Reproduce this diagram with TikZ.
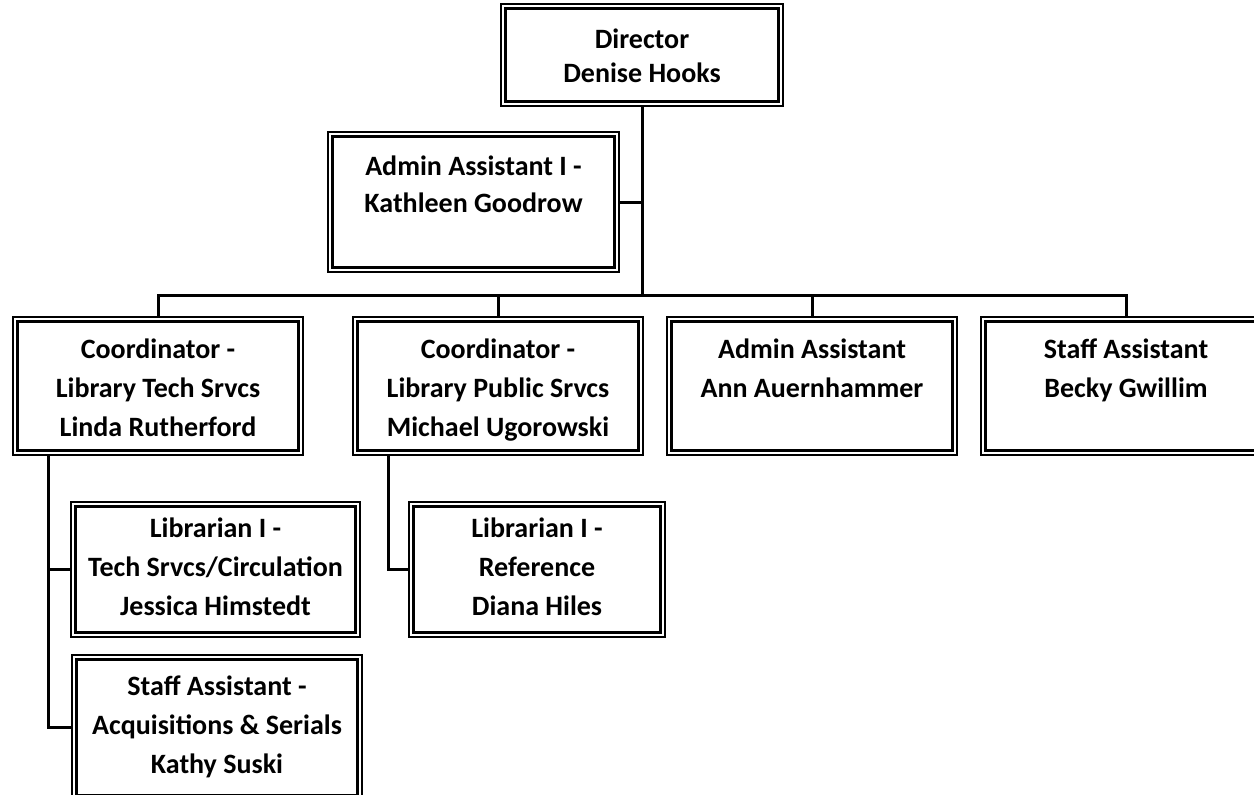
\documentclass[tikz,border=0pt]{standalone}
\usepackage{fontspec}
\setmainfont{Carlito}
\newcommand\toprl[1][12pt]{\rule{0pt}{#1}}
\newcommand\botrl[1]{\rule[-#1]{0pt}{0pt}}
\tikzset{
  orgbox/.style={draw, line width=0.75pt, inner sep=0pt, align=center,
    font=\bfseries\fontsize{14}{19.5}\selectfont,
    path picture={\draw[line width=1.8pt]
      ([shift={(2.3pt,-2.3pt)}]path picture bounding box.north west) rectangle
      ([shift={(-2.3pt,2.3pt)}]path picture bounding box.south east);}},
  conn/.style={draw, line width=1.5pt}
}
\begin{document}
\begin{tikzpicture}[x=0.5pt,y=-0.5pt]
\clip (0,0) rectangle (1254,794);
\fill[white] (0,0) rectangle (1254,794);
\node[orgbox, minimum width=141pt, minimum height=51pt] (dir) at (642,55)
  {\toprl Director\\[-2.5pt]Denise Hooks\botrl{2pt}};
\node[orgbox, minimum width=145.5pt, minimum height=70pt] (adm1) at (473.5,202)
  {\toprl Admin Assistant I -\\[-1pt]Kathleen Goodrow\botrl{20.5pt}};
\node[orgbox, minimum width=145pt, minimum height=69pt] (c1) at (158,386)
  {\toprl[15pt]Coordinator -\\Library Tech Srvcs\\Linda Rutherford\botrl{4pt}};
\node[orgbox, minimum width=145pt, minimum height=69pt] (c2) at (498,386)
  {\toprl[15pt]Coordinator -\\Library Public Srvcs\\Michael Ugorowski\botrl{4pt}};
\node[orgbox, minimum width=145pt, minimum height=69pt] (c3) at (812,386)
  {\toprl Admin Assistant\\Ann Auernhammer\botrl{20pt}};
\node[orgbox, minimum width=145pt, minimum height=69pt] (c4) at (1126,386)
  {\toprl Staff Assistant\\Becky Gwillim\botrl{20pt}};
\node[orgbox, minimum width=144.5pt, minimum height=67.5pt] (lib1) at (215.5,569.5)
  {\toprl Librarian I -\\Tech Srvcs/Circulation\\Jessica Himstedt\botrl{5pt}};
\node[orgbox, minimum width=145pt, minimum height=72.5pt] (sa) at (217,727.5)
  {\toprl Staff Assistant -\\Acquisitions \& Serials\\Kathy Suski\botrl{5pt}};
\node[orgbox, minimum width=128pt, minimum height=67.5pt] (lib2) at (537,569.5)
  {\toprl Librarian I -\\Reference\\Diana Hiles\botrl{5pt}};
\coordinate (bar) at (642,295);
\coordinate (s1) at (48,455);
\coordinate (s2) at (388,455);
\draw[conn] (dir.south) -- (bar);
\draw[conn] (adm1.east) -- (adm1.east -| bar);
\draw[conn] (c1.north) |- (c4.north |- bar) -- (c4.north);
\draw[conn] (c2.north) -- (c2.north |- bar);
\draw[conn] (c3.north) -- (c3.north |- bar);
\draw[conn] (s1) |- (sa.west);
\draw[conn] (s1) |- (lib1.west);
\draw[conn] (s2) |- (lib2.west);
\end{tikzpicture}
\end{document}
